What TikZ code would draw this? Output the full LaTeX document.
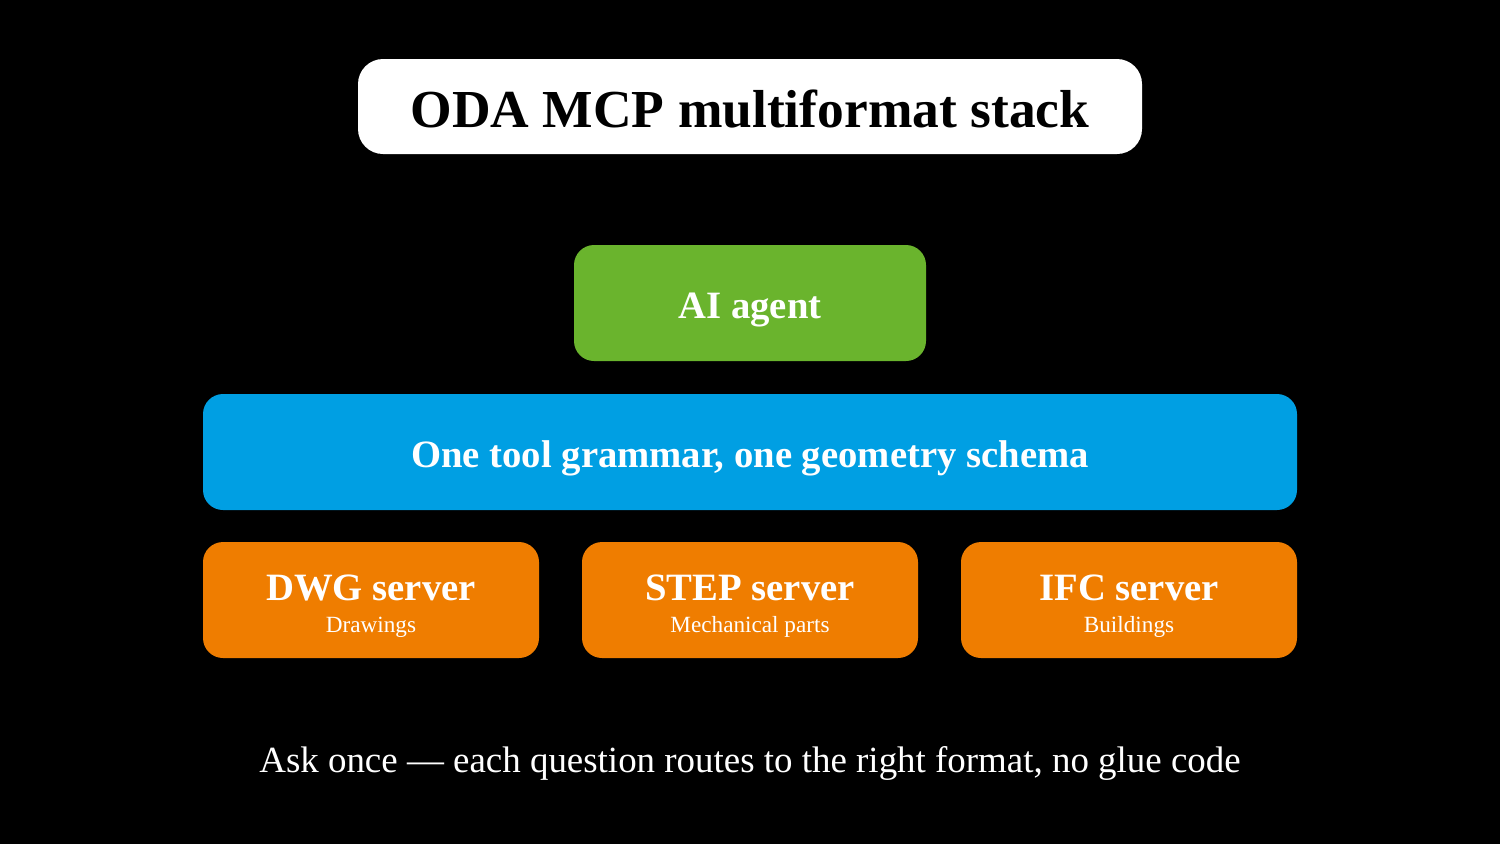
\documentclass[tikz,border=0pt]{standalone}
\usepackage{fontspec}
\setmainfont{Liberation Serif}
\definecolor{agentgreen}{HTML}{6AB42D}
\definecolor{layerblue}{HTML}{009FE3}
\definecolor{serverorange}{HTML}{EF7D00}
\begin{document}
\begin{tikzpicture}[x=0.01cm,y=-0.01cm,
  box/.style={rounded corners=0.2cm, inner sep=0pt},
  boxlabel/.style={anchor=base, text=white, font=\bfseries\fontsize{11pt}{13pt}\selectfont},
  sublabel/.style={anchor=base, text=white, font=\fontsize{6.6pt}{8pt}\selectfont}]
\fill[black] (0,0) rectangle (1500,844);
\useasboundingbox (0,0) rectangle (1500,844);
% title
\fill[white, rounded corners=0.25cm] (358,59) rectangle (1142,154);
\node[anchor=base, font=\bfseries\fontsize{15.2pt}{18pt}\selectfont, text=black] (title) at (750,127) {ODA MCP multiformat stack};
% agent
\fill[agentgreen, box] (574,245) rectangle (926,361);
\node[boxlabel] (agent) at (750,318) {AI agent};
% layer
\fill[layerblue, box] (203,394) rectangle (1297,510);
\node[boxlabel] (layer) at (750,467) {One tool grammar, one geometry schema};
% servers
\fill[serverorange, box] (203,542) rectangle (539,658);
\fill[serverorange, box] (582,542) rectangle (918,658);
\fill[serverorange, box] (961,542) rectangle (1297,658);
\node[boxlabel] (dwg) at (371,600) {DWG server};
\node[sublabel] (dwgs) at (371,632) {Drawings};
\node[boxlabel] (step) at (750,600) {STEP server};
\node[sublabel] (steps) at (750,632) {Mechanical parts};
\node[boxlabel] (ifc) at (1129,600) {IFC server};
\node[sublabel] (ifcs) at (1129,632) {Buildings};
% footer
\node[anchor=base, text=white, font=\fontsize{10.5pt}{13pt}\selectfont] (footer) at (750,772) {Ask once — each question routes to the right format, no glue code};
\end{tikzpicture}
\end{document}
